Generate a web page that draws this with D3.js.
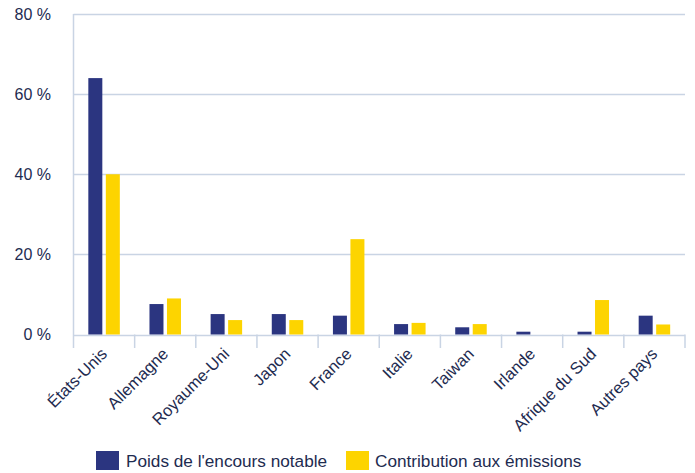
<!DOCTYPE html>
<html><head><meta charset="utf-8">
<script src="https://cdn.jsdelivr.net/npm/d3@7/dist/d3.min.js"></script>
<style>body{margin:0;background:#fff}svg{display:block}text{font-family:"Liberation Sans",Arial,sans-serif}</style>
</head><body><svg id="c" width="695" height="473"></svg>
<script>
const categories = ["États-Unis","Allemagne","Royaume-Uni","Japon","France","Italie","Taiwan","Irlande","Afrique du Sud","Autres pays"];
const seriesNames = ["Poids de l'encours notable","Contribution aux émissions"];
const poids = [64, 7.6, 5.1, 5.1, 4.7, 2.6, 1.8, 0.7, 0.7, 4.7];
const contribution = [40, 9.0, 3.6, 3.6, 23.8, 2.9, 2.6, 0, 8.6, 2.5];
const yTicks = [0, 20, 40, 60, 80];
const colors = ["#2b3580", "#fdd400"];
const textColor = "#1e2b50";
const gridColor = "#c9d4e4";

const svg = d3.select("#c");
const x0 = 73.5, x1 = 685, yTop = 14, yBot = 334.5;
const x = d3.scaleBand().domain(categories).range([x0, x1]).paddingInner(0).paddingOuter(0);
const y = d3.scaleLinear().domain([0, 80]).range([yBot, yTop]);
const barW = 14, gap = 3.5;
const groupW = barW * 2 + gap;

// gridlines
svg.append("g").selectAll("line").data(yTicks).join("line")
  .attr("x1", x0).attr("x2", x1)
  .attr("y1", d => Math.round(y(d)) + 0.5).attr("y2", d => Math.round(y(d)) + 0.5)
  .attr("stroke", gridColor).attr("stroke-width", 1.5);

// y axis line
svg.append("line").attr("x1", x0).attr("x2", x0).attr("y1", yTop).attr("y2", 348)
  .attr("stroke", gridColor).attr("stroke-width", 1.5);

// x ticks
const tickPos = categories.map(c => x(c)).concat([x1]);
svg.append("g").selectAll("line").data(tickPos.slice(1)).join("line")
  .attr("x1", d => d).attr("x2", d => d).attr("y1", yBot).attr("y2", 348)
  .attr("stroke", gridColor).attr("stroke-width", 1.5);

// y labels
svg.append("g").selectAll("text").data(yTicks).join("text")
  .attr("x", 51).attr("y", d => y(d) + 5.5)
  .attr("text-anchor", "end").attr("font-size", 16).attr("fill", textColor)
  .text(d => d + " %");

// bars
const series = [poids, contribution];
series.forEach((vals, si) => {
  svg.append("g").selectAll("rect").data(categories).join("rect")
    .attr("x", c => x(c) + (x.bandwidth() - groupW) / 2 + si * (barW + gap))
    .attr("y", (c, i) => y(vals[i]))
    .attr("width", barW)
    .attr("height", (c, i) => y(0) - y(vals[i]))
    .attr("fill", colors[si]);
});

// x labels
svg.append("g").selectAll("text").data(categories).join("text")
  .attr("transform", c => `translate(${x(c) + x.bandwidth() / 2 + 4},${355}) rotate(-45)`)
  .attr("text-anchor", "end").attr("font-size", 16.5).attr("fill", textColor)
  .text(c => c);

// legend
const legX = [96, 346], legTX = [126, 375];
seriesNames.forEach((n, i) => {
  svg.append("rect").attr("x", legX[i]).attr("y", 451).attr("width", 23).attr("height", 19).attr("fill", colors[i]);
  svg.append("text").attr("x", legTX[i]).attr("y", 466.5).attr("font-size", 17.2).attr("fill", textColor).text(n);
});
</script></body></html>
